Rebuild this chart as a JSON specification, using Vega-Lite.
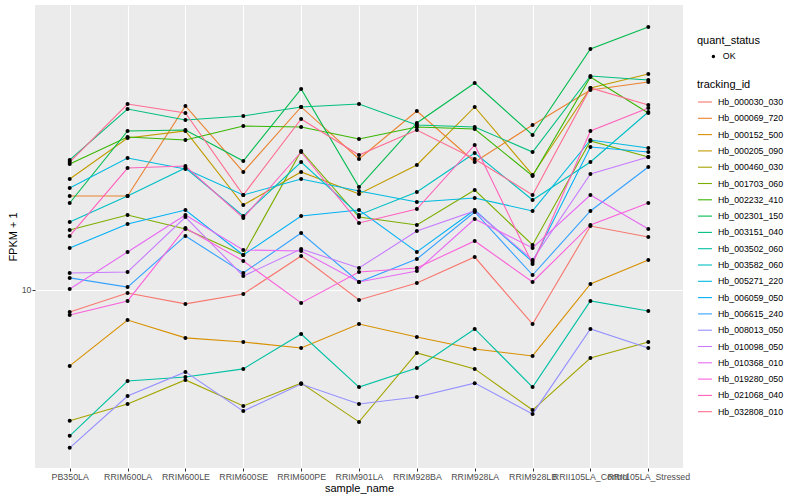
{
"$schema":"https://vega.github.io/schema/vega-lite/v6.json",
"width":648,"height":463,
"autosize":{"type":"none"},
"padding":{"left":35,"top":5,"right":117,"bottom":32},
"background":"white",
"config":{"view":{"fill":"#EBEBEB","stroke":null},"font":"Liberation Sans"},
"datasets":{"d":[
{"tracking_id":"Hb_000030_030","sample_name":"PB350LA","FPKM":8.81,"quant_status":"OK"},
{"tracking_id":"Hb_000030_030","sample_name":"RRIM600LA","FPKM":9.83,"quant_status":"OK"},
{"tracking_id":"Hb_000030_030","sample_name":"RRIM600LE","FPKM":9.23,"quant_status":"OK"},
{"tracking_id":"Hb_000030_030","sample_name":"RRIM600SE","FPKM":9.77,"quant_status":"OK"},
{"tracking_id":"Hb_000030_030","sample_name":"RRIM600PE","FPKM":12.16,"quant_status":"OK"},
{"tracking_id":"Hb_000030_030","sample_name":"RRIM901LA","FPKM":9.44,"quant_status":"OK"},
{"tracking_id":"Hb_000030_030","sample_name":"RRIM928BA","FPKM":10.41,"quant_status":"OK"},
{"tracking_id":"Hb_000030_030","sample_name":"RRIM928LA","FPKM":12.09,"quant_status":"OK"},
{"tracking_id":"Hb_000030_030","sample_name":"RRIM928LB","FPKM":8.22,"quant_status":"OK"},
{"tracking_id":"Hb_000030_030","sample_name":"RRII105LA_Control","FPKM":14.45,"quant_status":"OK"},
{"tracking_id":"Hb_000030_030","sample_name":"RRII105LA_Stressed","FPKM":13.57,"quant_status":"OK"},
{"tracking_id":"Hb_000069_720","sample_name":"PB350LA","FPKM":17.18,"quant_status":"OK"},
{"tracking_id":"Hb_000069_720","sample_name":"RRIM600LA","FPKM":17.18,"quant_status":"OK"},
{"tracking_id":"Hb_000069_720","sample_name":"RRIM600LE","FPKM":28.84,"quant_status":"OK"},
{"tracking_id":"Hb_000069_720","sample_name":"RRIM600SE","FPKM":19.73,"quant_status":"OK"},
{"tracking_id":"Hb_000069_720","sample_name":"RRIM600PE","FPKM":28.68,"quant_status":"OK"},
{"tracking_id":"Hb_000069_720","sample_name":"RRIM901LA","FPKM":21.26,"quant_status":"OK"},
{"tracking_id":"Hb_000069_720","sample_name":"RRIM928BA","FPKM":28.02,"quant_status":"OK"},
{"tracking_id":"Hb_000069_720","sample_name":"RRIM928LA","FPKM":20.89,"quant_status":"OK"},
{"tracking_id":"Hb_000069_720","sample_name":"RRIM928LB","FPKM":25.85,"quant_status":"OK"},
{"tracking_id":"Hb_000069_720","sample_name":"RRII105LA_Control","FPKM":31.62,"quant_status":"OK"},
{"tracking_id":"Hb_000069_720","sample_name":"RRII105LA_Stressed","FPKM":33.11,"quant_status":"OK"},
{"tracking_id":"Hb_000152_500","sample_name":"PB350LA","FPKM":6.46,"quant_status":"OK"},
{"tracking_id":"Hb_000152_500","sample_name":"RRIM600LA","FPKM":8.41,"quant_status":"OK"},
{"tracking_id":"Hb_000152_500","sample_name":"RRIM600LE","FPKM":7.59,"quant_status":"OK"},
{"tracking_id":"Hb_000152_500","sample_name":"RRIM600SE","FPKM":7.41,"quant_status":"OK"},
{"tracking_id":"Hb_000152_500","sample_name":"RRIM600PE","FPKM":7.16,"quant_status":"OK"},
{"tracking_id":"Hb_000152_500","sample_name":"RRIM901LA","FPKM":8.22,"quant_status":"OK"},
{"tracking_id":"Hb_000152_500","sample_name":"RRIM928BA","FPKM":7.63,"quant_status":"OK"},
{"tracking_id":"Hb_000152_500","sample_name":"RRIM928LA","FPKM":7.12,"quant_status":"OK"},
{"tracking_id":"Hb_000152_500","sample_name":"RRIM928LB","FPKM":6.84,"quant_status":"OK"},
{"tracking_id":"Hb_000152_500","sample_name":"RRII105LA_Control","FPKM":10.35,"quant_status":"OK"},
{"tracking_id":"Hb_000152_500","sample_name":"RRII105LA_Stressed","FPKM":11.89,"quant_status":"OK"},
{"tracking_id":"Hb_000205_090","sample_name":"PB350LA","FPKM":18.95,"quant_status":"OK"},
{"tracking_id":"Hb_000205_090","sample_name":"RRIM600LA","FPKM":23.99,"quant_status":"OK"},
{"tracking_id":"Hb_000205_090","sample_name":"RRIM600LE","FPKM":24.98,"quant_status":"OK"},
{"tracking_id":"Hb_000205_090","sample_name":"RRIM600SE","FPKM":16.31,"quant_status":"OK"},
{"tracking_id":"Hb_000205_090","sample_name":"RRIM600PE","FPKM":19.73,"quant_status":"OK"},
{"tracking_id":"Hb_000205_090","sample_name":"RRIM901LA","FPKM":17.38,"quant_status":"OK"},
{"tracking_id":"Hb_000205_090","sample_name":"RRIM928BA","FPKM":20.54,"quant_status":"OK"},
{"tracking_id":"Hb_000205_090","sample_name":"RRIM928LA","FPKM":28.68,"quant_status":"OK"},
{"tracking_id":"Hb_000205_090","sample_name":"RRIM928LB","FPKM":19.39,"quant_status":"OK"},
{"tracking_id":"Hb_000205_090","sample_name":"RRII105LA_Control","FPKM":31.99,"quant_status":"OK"},
{"tracking_id":"Hb_000205_090","sample_name":"RRII105LA_Stressed","FPKM":34.67,"quant_status":"OK"},
{"tracking_id":"Hb_000460_030","sample_name":"PB350LA","FPKM":4.71,"quant_status":"OK"},
{"tracking_id":"Hb_000460_030","sample_name":"RRIM600LA","FPKM":5.19,"quant_status":"OK"},
{"tracking_id":"Hb_000460_030","sample_name":"RRIM600LE","FPKM":5.96,"quant_status":"OK"},
{"tracking_id":"Hb_000460_030","sample_name":"RRIM600SE","FPKM":5.13,"quant_status":"OK"},
{"tracking_id":"Hb_000460_030","sample_name":"RRIM600PE","FPKM":5.85,"quant_status":"OK"},
{"tracking_id":"Hb_000460_030","sample_name":"RRIM901LA","FPKM":4.68,"quant_status":"OK"},
{"tracking_id":"Hb_000460_030","sample_name":"RRIM928BA","FPKM":6.96,"quant_status":"OK"},
{"tracking_id":"Hb_000460_030","sample_name":"RRIM928LA","FPKM":6.35,"quant_status":"OK"},
{"tracking_id":"Hb_000460_030","sample_name":"RRIM928LB","FPKM":5.01,"quant_status":"OK"},
{"tracking_id":"Hb_000460_030","sample_name":"RRII105LA_Control","FPKM":6.76,"quant_status":"OK"},
{"tracking_id":"Hb_000460_030","sample_name":"RRII105LA_Stressed","FPKM":7.41,"quant_status":"OK"},
{"tracking_id":"Hb_001703_060","sample_name":"PB350LA","FPKM":14.13,"quant_status":"OK"},
{"tracking_id":"Hb_001703_060","sample_name":"RRIM600LA","FPKM":15.40,"quant_status":"OK"},
{"tracking_id":"Hb_001703_060","sample_name":"RRIM600LE","FPKM":14.21,"quant_status":"OK"},
{"tracking_id":"Hb_001703_060","sample_name":"RRIM600SE","FPKM":12.23,"quant_status":"OK"},
{"tracking_id":"Hb_001703_060","sample_name":"RRIM600PE","FPKM":22.26,"quant_status":"OK"},
{"tracking_id":"Hb_001703_060","sample_name":"RRIM901LA","FPKM":15.22,"quant_status":"OK"},
{"tracking_id":"Hb_001703_060","sample_name":"RRIM928BA","FPKM":14.54,"quant_status":"OK"},
{"tracking_id":"Hb_001703_060","sample_name":"RRIM928LA","FPKM":17.78,"quant_status":"OK"},
{"tracking_id":"Hb_001703_060","sample_name":"RRIM928LB","FPKM":12.96,"quant_status":"OK"},
{"tracking_id":"Hb_001703_060","sample_name":"RRII105LA_Control","FPKM":23.58,"quant_status":"OK"},
{"tracking_id":"Hb_001703_060","sample_name":"RRII105LA_Stressed","FPKM":21.50,"quant_status":"OK"},
{"tracking_id":"Hb_002232_410","sample_name":"PB350LA","FPKM":20.65,"quant_status":"OK"},
{"tracking_id":"Hb_002232_410","sample_name":"RRIM600LA","FPKM":24.13,"quant_status":"OK"},
{"tracking_id":"Hb_002232_410","sample_name":"RRIM600LE","FPKM":23.71,"quant_status":"OK"},
{"tracking_id":"Hb_002232_410","sample_name":"RRIM600SE","FPKM":25.70,"quant_status":"OK"},
{"tracking_id":"Hb_002232_410","sample_name":"RRIM600PE","FPKM":25.56,"quant_status":"OK"},
{"tracking_id":"Hb_002232_410","sample_name":"RRIM901LA","FPKM":23.85,"quant_status":"OK"},
{"tracking_id":"Hb_002232_410","sample_name":"RRIM928BA","FPKM":25.56,"quant_status":"OK"},
{"tracking_id":"Hb_002232_410","sample_name":"RRIM928LA","FPKM":25.26,"quant_status":"OK"},
{"tracking_id":"Hb_002232_410","sample_name":"RRIM928LB","FPKM":19.28,"quant_status":"OK"},
{"tracking_id":"Hb_002232_410","sample_name":"RRII105LA_Control","FPKM":34.08,"quant_status":"OK"},
{"tracking_id":"Hb_002232_410","sample_name":"RRII105LA_Stressed","FPKM":27.70,"quant_status":"OK"},
{"tracking_id":"Hb_002301_150","sample_name":"PB350LA","FPKM":16.50,"quant_status":"OK"},
{"tracking_id":"Hb_002301_150","sample_name":"RRIM600LA","FPKM":24.98,"quant_status":"OK"},
{"tracking_id":"Hb_002301_150","sample_name":"RRIM600LE","FPKM":25.12,"quant_status":"OK"},
{"tracking_id":"Hb_002301_150","sample_name":"RRIM600SE","FPKM":21.01,"quant_status":"OK"},
{"tracking_id":"Hb_002301_150","sample_name":"RRIM600PE","FPKM":31.81,"quant_status":"OK"},
{"tracking_id":"Hb_002301_150","sample_name":"RRIM901LA","FPKM":18.09,"quant_status":"OK"},
{"tracking_id":"Hb_002301_150","sample_name":"RRIM928BA","FPKM":26.15,"quant_status":"OK"},
{"tracking_id":"Hb_002301_150","sample_name":"RRIM928LA","FPKM":32.92,"quant_status":"OK"},
{"tracking_id":"Hb_002301_150","sample_name":"RRIM928LB","FPKM":24.41,"quant_status":"OK"},
{"tracking_id":"Hb_002301_150","sample_name":"RRII105LA_Control","FPKM":40.04,"quant_status":"OK"},
{"tracking_id":"Hb_002301_150","sample_name":"RRII105LA_Stressed","FPKM":45.45,"quant_status":"OK"},
{"tracking_id":"Hb_003151_040","sample_name":"PB350LA","FPKM":21.14,"quant_status":"OK"},
{"tracking_id":"Hb_003151_040","sample_name":"RRIM600LA","FPKM":28.35,"quant_status":"OK"},
{"tracking_id":"Hb_003151_040","sample_name":"RRIM600LE","FPKM":26.61,"quant_status":"OK"},
{"tracking_id":"Hb_003151_040","sample_name":"RRIM600SE","FPKM":27.23,"quant_status":"OK"},
{"tracking_id":"Hb_003151_040","sample_name":"RRIM600PE","FPKM":28.68,"quant_status":"OK"},
{"tracking_id":"Hb_003151_040","sample_name":"RRIM901LA","FPKM":29.17,"quant_status":"OK"},
{"tracking_id":"Hb_003151_040","sample_name":"RRIM928BA","FPKM":25.85,"quant_status":"OK"},
{"tracking_id":"Hb_003151_040","sample_name":"RRIM928LA","FPKM":25.56,"quant_status":"OK"},
{"tracking_id":"Hb_003151_040","sample_name":"RRIM928LB","FPKM":22.13,"quant_status":"OK"},
{"tracking_id":"Hb_003151_040","sample_name":"RRII105LA_Control","FPKM":34.28,"quant_status":"OK"},
{"tracking_id":"Hb_003151_040","sample_name":"RRII105LA_Stressed","FPKM":33.50,"quant_status":"OK"},
{"tracking_id":"Hb_003502_060","sample_name":"PB350LA","FPKM":4.32,"quant_status":"OK"},
{"tracking_id":"Hb_003502_060","sample_name":"RRIM600LA","FPKM":5.92,"quant_status":"OK"},
{"tracking_id":"Hb_003502_060","sample_name":"RRIM600LE","FPKM":6.06,"quant_status":"OK"},
{"tracking_id":"Hb_003502_060","sample_name":"RRIM600SE","FPKM":6.35,"quant_status":"OK"},
{"tracking_id":"Hb_003502_060","sample_name":"RRIM600PE","FPKM":7.76,"quant_status":"OK"},
{"tracking_id":"Hb_003502_060","sample_name":"RRIM901LA","FPKM":5.72,"quant_status":"OK"},
{"tracking_id":"Hb_003502_060","sample_name":"RRIM928BA","FPKM":6.38,"quant_status":"OK"},
{"tracking_id":"Hb_003502_060","sample_name":"RRIM928LA","FPKM":7.99,"quant_status":"OK"},
{"tracking_id":"Hb_003502_060","sample_name":"RRIM928LB","FPKM":5.72,"quant_status":"OK"},
{"tracking_id":"Hb_003502_060","sample_name":"RRII105LA_Control","FPKM":9.39,"quant_status":"OK"},
{"tracking_id":"Hb_003502_060","sample_name":"RRII105LA_Stressed","FPKM":8.86,"quant_status":"OK"},
{"tracking_id":"Hb_003582_060","sample_name":"PB350LA","FPKM":14.79,"quant_status":"OK"},
{"tracking_id":"Hb_003582_060","sample_name":"RRIM600LA","FPKM":17.18,"quant_status":"OK"},
{"tracking_id":"Hb_003582_060","sample_name":"RRIM600LE","FPKM":20.18,"quant_status":"OK"},
{"tracking_id":"Hb_003582_060","sample_name":"RRIM600SE","FPKM":15.31,"quant_status":"OK"},
{"tracking_id":"Hb_003582_060","sample_name":"RRIM600PE","FPKM":20.89,"quant_status":"OK"},
{"tracking_id":"Hb_003582_060","sample_name":"RRIM901LA","FPKM":15.40,"quant_status":"OK"},
{"tracking_id":"Hb_003582_060","sample_name":"RRIM928BA","FPKM":17.58,"quant_status":"OK"},
{"tracking_id":"Hb_003582_060","sample_name":"RRIM928LA","FPKM":22.00,"quant_status":"OK"},
{"tracking_id":"Hb_003582_060","sample_name":"RRIM928LB","FPKM":16.79,"quant_status":"OK"},
{"tracking_id":"Hb_003582_060","sample_name":"RRII105LA_Control","FPKM":20.89,"quant_status":"OK"},
{"tracking_id":"Hb_003582_060","sample_name":"RRII105LA_Stressed","FPKM":27.86,"quant_status":"OK"},
{"tracking_id":"Hb_005271_220","sample_name":"PB350LA","FPKM":17.99,"quant_status":"OK"},
{"tracking_id":"Hb_005271_220","sample_name":"RRIM600LA","FPKM":21.38,"quant_status":"OK"},
{"tracking_id":"Hb_005271_220","sample_name":"RRIM600LE","FPKM":20.07,"quant_status":"OK"},
{"tracking_id":"Hb_005271_220","sample_name":"RRIM600SE","FPKM":17.28,"quant_status":"OK"},
{"tracking_id":"Hb_005271_220","sample_name":"RRIM600PE","FPKM":18.95,"quant_status":"OK"},
{"tracking_id":"Hb_005271_220","sample_name":"RRIM901LA","FPKM":17.68,"quant_status":"OK"},
{"tracking_id":"Hb_005271_220","sample_name":"RRIM928BA","FPKM":16.60,"quant_status":"OK"},
{"tracking_id":"Hb_005271_220","sample_name":"RRIM928LA","FPKM":16.98,"quant_status":"OK"},
{"tracking_id":"Hb_005271_220","sample_name":"RRIM928LB","FPKM":15.76,"quant_status":"OK"},
{"tracking_id":"Hb_005271_220","sample_name":"RRII105LA_Control","FPKM":23.71,"quant_status":"OK"},
{"tracking_id":"Hb_005271_220","sample_name":"RRII105LA_Stressed","FPKM":22.65,"quant_status":"OK"},
{"tracking_id":"Hb_006059_050","sample_name":"PB350LA","FPKM":12.74,"quant_status":"OK"},
{"tracking_id":"Hb_006059_050","sample_name":"RRIM600LA","FPKM":14.62,"quant_status":"OK"},
{"tracking_id":"Hb_006059_050","sample_name":"RRIM600LE","FPKM":15.85,"quant_status":"OK"},
{"tracking_id":"Hb_006059_050","sample_name":"RRIM600SE","FPKM":12.23,"quant_status":"OK"},
{"tracking_id":"Hb_006059_050","sample_name":"RRIM600PE","FPKM":15.31,"quant_status":"OK"},
{"tracking_id":"Hb_006059_050","sample_name":"RRIM901LA","FPKM":15.85,"quant_status":"OK"},
{"tracking_id":"Hb_006059_050","sample_name":"RRIM928BA","FPKM":12.45,"quant_status":"OK"},
{"tracking_id":"Hb_006059_050","sample_name":"RRIM928LA","FPKM":15.85,"quant_status":"OK"},
{"tracking_id":"Hb_006059_050","sample_name":"RRIM928LB","FPKM":11.75,"quant_status":"OK"},
{"tracking_id":"Hb_006059_050","sample_name":"RRII105LA_Control","FPKM":22.78,"quant_status":"OK"},
{"tracking_id":"Hb_006059_050","sample_name":"RRII105LA_Stressed","FPKM":22.13,"quant_status":"OK"},
{"tracking_id":"Hb_006615_240","sample_name":"PB350LA","FPKM":10.72,"quant_status":"OK"},
{"tracking_id":"Hb_006615_240","sample_name":"RRIM600LA","FPKM":10.17,"quant_status":"OK"},
{"tracking_id":"Hb_006615_240","sample_name":"RRIM600LE","FPKM":13.65,"quant_status":"OK"},
{"tracking_id":"Hb_006615_240","sample_name":"RRIM600SE","FPKM":11.03,"quant_status":"OK"},
{"tracking_id":"Hb_006615_240","sample_name":"RRIM600PE","FPKM":13.88,"quant_status":"OK"},
{"tracking_id":"Hb_006615_240","sample_name":"RRIM901LA","FPKM":10.47,"quant_status":"OK"},
{"tracking_id":"Hb_006615_240","sample_name":"RRIM928BA","FPKM":11.95,"quant_status":"OK"},
{"tracking_id":"Hb_006615_240","sample_name":"RRIM928LA","FPKM":15.67,"quant_status":"OK"},
{"tracking_id":"Hb_006615_240","sample_name":"RRIM928LB","FPKM":10.90,"quant_status":"OK"},
{"tracking_id":"Hb_006615_240","sample_name":"RRII105LA_Control","FPKM":15.76,"quant_status":"OK"},
{"tracking_id":"Hb_006615_240","sample_name":"RRII105LA_Stressed","FPKM":20.30,"quant_status":"OK"},
{"tracking_id":"Hb_008013_050","sample_name":"PB350LA","FPKM":4.03,"quant_status":"OK"},
{"tracking_id":"Hb_008013_050","sample_name":"RRIM600LA","FPKM":5.43,"quant_status":"OK"},
{"tracking_id":"Hb_008013_050","sample_name":"RRIM600LE","FPKM":6.24,"quant_status":"OK"},
{"tracking_id":"Hb_008013_050","sample_name":"RRIM600SE","FPKM":4.98,"quant_status":"OK"},
{"tracking_id":"Hb_008013_050","sample_name":"RRIM600PE","FPKM":5.82,"quant_status":"OK"},
{"tracking_id":"Hb_008013_050","sample_name":"RRIM901LA","FPKM":5.19,"quant_status":"OK"},
{"tracking_id":"Hb_008013_050","sample_name":"RRIM928BA","FPKM":5.40,"quant_status":"OK"},
{"tracking_id":"Hb_008013_050","sample_name":"RRIM928LA","FPKM":5.85,"quant_status":"OK"},
{"tracking_id":"Hb_008013_050","sample_name":"RRIM928LB","FPKM":4.90,"quant_status":"OK"},
{"tracking_id":"Hb_008013_050","sample_name":"RRII105LA_Control","FPKM":7.99,"quant_status":"OK"},
{"tracking_id":"Hb_008013_050","sample_name":"RRII105LA_Stressed","FPKM":7.16,"quant_status":"OK"},
{"tracking_id":"Hb_010098_050","sample_name":"PB350LA","FPKM":11.03,"quant_status":"OK"},
{"tracking_id":"Hb_010098_050","sample_name":"RRIM600LA","FPKM":11.09,"quant_status":"OK"},
{"tracking_id":"Hb_010098_050","sample_name":"RRIM600LE","FPKM":15.22,"quant_status":"OK"},
{"tracking_id":"Hb_010098_050","sample_name":"RRIM600SE","FPKM":10.84,"quant_status":"OK"},
{"tracking_id":"Hb_010098_050","sample_name":"RRIM600PE","FPKM":12.66,"quant_status":"OK"},
{"tracking_id":"Hb_010098_050","sample_name":"RRIM901LA","FPKM":11.35,"quant_status":"OK"},
{"tracking_id":"Hb_010098_050","sample_name":"RRIM928BA","FPKM":14.04,"quant_status":"OK"},
{"tracking_id":"Hb_010098_050","sample_name":"RRIM928LA","FPKM":15.76,"quant_status":"OK"},
{"tracking_id":"Hb_010098_050","sample_name":"RRIM928LB","FPKM":11.89,"quant_status":"OK"},
{"tracking_id":"Hb_010098_050","sample_name":"RRII105LA_Control","FPKM":19.50,"quant_status":"OK"},
{"tracking_id":"Hb_010098_050","sample_name":"RRII105LA_Stressed","FPKM":21.50,"quant_status":"OK"},
{"tracking_id":"Hb_010368_010","sample_name":"PB350LA","FPKM":10.06,"quant_status":"OK"},
{"tracking_id":"Hb_010368_010","sample_name":"RRIM600LA","FPKM":12.45,"quant_status":"OK"},
{"tracking_id":"Hb_010368_010","sample_name":"RRIM600LE","FPKM":15.40,"quant_status":"OK"},
{"tracking_id":"Hb_010368_010","sample_name":"RRIM600SE","FPKM":12.59,"quant_status":"OK"},
{"tracking_id":"Hb_010368_010","sample_name":"RRIM600PE","FPKM":12.52,"quant_status":"OK"},
{"tracking_id":"Hb_010368_010","sample_name":"RRIM901LA","FPKM":10.47,"quant_status":"OK"},
{"tracking_id":"Hb_010368_010","sample_name":"RRIM928BA","FPKM":11.16,"quant_status":"OK"},
{"tracking_id":"Hb_010368_010","sample_name":"RRIM928LA","FPKM":15.05,"quant_status":"OK"},
{"tracking_id":"Hb_010368_010","sample_name":"RRIM928LB","FPKM":12.74,"quant_status":"OK"},
{"tracking_id":"Hb_010368_010","sample_name":"RRII105LA_Control","FPKM":17.28,"quant_status":"OK"},
{"tracking_id":"Hb_010368_010","sample_name":"RRII105LA_Stressed","FPKM":14.21,"quant_status":"OK"},
{"tracking_id":"Hb_019280_050","sample_name":"PB350LA","FPKM":8.66,"quant_status":"OK"},
{"tracking_id":"Hb_019280_050","sample_name":"RRIM600LA","FPKM":9.39,"quant_status":"OK"},
{"tracking_id":"Hb_019280_050","sample_name":"RRIM600LE","FPKM":14.29,"quant_status":"OK"},
{"tracking_id":"Hb_019280_050","sample_name":"RRIM600SE","FPKM":11.82,"quant_status":"OK"},
{"tracking_id":"Hb_019280_050","sample_name":"RRIM600PE","FPKM":9.28,"quant_status":"OK"},
{"tracking_id":"Hb_019280_050","sample_name":"RRIM901LA","FPKM":11.09,"quant_status":"OK"},
{"tracking_id":"Hb_019280_050","sample_name":"RRIM928BA","FPKM":11.35,"quant_status":"OK"},
{"tracking_id":"Hb_019280_050","sample_name":"RRIM928LA","FPKM":13.26,"quant_status":"OK"},
{"tracking_id":"Hb_019280_050","sample_name":"RRIM928LB","FPKM":10.47,"quant_status":"OK"},
{"tracking_id":"Hb_019280_050","sample_name":"RRII105LA_Control","FPKM":14.54,"quant_status":"OK"},
{"tracking_id":"Hb_019280_050","sample_name":"RRII105LA_Stressed","FPKM":16.50,"quant_status":"OK"},
{"tracking_id":"Hb_021068_040","sample_name":"PB350LA","FPKM":13.65,"quant_status":"OK"},
{"tracking_id":"Hb_021068_040","sample_name":"RRIM600LA","FPKM":20.18,"quant_status":"OK"},
{"tracking_id":"Hb_021068_040","sample_name":"RRIM600LE","FPKM":20.42,"quant_status":"OK"},
{"tracking_id":"Hb_021068_040","sample_name":"RRIM600SE","FPKM":15.14,"quant_status":"OK"},
{"tracking_id":"Hb_021068_040","sample_name":"RRIM600PE","FPKM":22.13,"quant_status":"OK"},
{"tracking_id":"Hb_021068_040","sample_name":"RRIM901LA","FPKM":14.71,"quant_status":"OK"},
{"tracking_id":"Hb_021068_040","sample_name":"RRIM928BA","FPKM":15.94,"quant_status":"OK"},
{"tracking_id":"Hb_021068_040","sample_name":"RRIM928LA","FPKM":23.04,"quant_status":"OK"},
{"tracking_id":"Hb_021068_040","sample_name":"RRIM928LB","FPKM":11.61,"quant_status":"OK"},
{"tracking_id":"Hb_021068_040","sample_name":"RRII105LA_Control","FPKM":24.98,"quant_status":"OK"},
{"tracking_id":"Hb_021068_040","sample_name":"RRII105LA_Stressed","FPKM":28.51,"quant_status":"OK"},
{"tracking_id":"Hb_032808_010","sample_name":"PB350LA","FPKM":20.89,"quant_status":"OK"},
{"tracking_id":"Hb_032808_010","sample_name":"RRIM600LA","FPKM":29.17,"quant_status":"OK"},
{"tracking_id":"Hb_032808_010","sample_name":"RRIM600LE","FPKM":27.70,"quant_status":"OK"},
{"tracking_id":"Hb_032808_010","sample_name":"RRIM600SE","FPKM":17.28,"quant_status":"OK"},
{"tracking_id":"Hb_032808_010","sample_name":"RRIM600PE","FPKM":26.76,"quant_status":"OK"},
{"tracking_id":"Hb_032808_010","sample_name":"RRIM901LA","FPKM":21.75,"quant_status":"OK"},
{"tracking_id":"Hb_032808_010","sample_name":"RRIM928BA","FPKM":25.12,"quant_status":"OK"},
{"tracking_id":"Hb_032808_010","sample_name":"RRIM928LA","FPKM":21.26,"quant_status":"OK"},
{"tracking_id":"Hb_032808_010","sample_name":"RRIM928LB","FPKM":17.28,"quant_status":"OK"},
{"tracking_id":"Hb_032808_010","sample_name":"RRII105LA_Control","FPKM":31.99,"quant_status":"OK"},
{"tracking_id":"Hb_032808_010","sample_name":"RRII105LA_Stressed","FPKM":29.01,"quant_status":"OK"}
]},
"data":{"name":"d"},
"encoding":{
"x":{"field":"sample_name","type":"nominal",
"sort":["PB350LA","RRIM600LA","RRIM600LE","RRIM600SE","RRIM600PE","RRIM901LA","RRIM928BA","RRIM928LA","RRIM928LB","RRII105LA_Control","RRII105LA_Stressed"],
"scale":{"type":"point","padding":0.6},
"axis":{"title":"sample_name","titleFontSize":11,"titleFontWeight":"normal","titleColor":"black","titlePadding":2,"labelFontSize":8.8,"labelColor":"#4D4D4D","labelAngle":0,"labelOverlap":false,"labelBound":false,"labelFlush":false,"labelPadding":1,"tickColor":"#333333","tickSize":3,"domain":false,"grid":true,"gridColor":"white","gridWidth":1.1}},
"y":{"field":"FPKM","type":"quantitative",
"scale":{"type":"log","domain":[3.589,51.58],"nice":false},
"axis":{"title":"FPKM + 1","values":[10],"format":"d","titleFontSize":11,"titleFontWeight":"normal","titleColor":"black","titlePadding":3,"labelFontSize":8.8,"labelColor":"#4D4D4D","labelPadding":1,"tickColor":"#333333","tickSize":3,"domain":false,"grid":true,"gridColor":"white","gridWidth":1.1}}
},
"layer":[
{"mark":{"type":"line","strokeWidth":1.1},
"encoding":{"color":{"field":"tracking_id","type":"nominal",
"scale":{"range":["#F8766D","#EA8331","#D89000","#C09B00","#A3A500","#7CAE00","#39B600","#00BB4E","#00BF7D","#00C1A3","#00BFC4","#00BAE0","#00B0F6","#35A2FF","#9590FF","#C77CFF","#E76BF3","#FA62DB","#FF62BC","#FF6C91"]},
"legend":{"title":"tracking_id","orient":"none","legendX":662,"legendY":74,"symbolType":"stroke","symbolSize":196,"symbolStrokeWidth":1.1,"labelFontSize":8.8,"labelColor":"black","titleFontSize":11,"titleFontWeight":"normal","titleColor":"black","titlePadding":4,"rowPadding":3.3,"labelOffset":5}}}},
{"mark":{"type":"point","filled":true,"size":16,"opacity":1},
"encoding":{"color":{"value":"black"},
"shape":{"field":"quant_status","type":"nominal","scale":{"range":["circle"]},
"legend":{"title":"quant_status","orient":"none","legendX":662,"legendY":30,"symbolSize":12,"symbolFillColor":"black","symbolStrokeColor":"black","symbolOffset":12,"labelFontSize":8.8,"labelColor":"black","titleFontSize":11,"titleFontWeight":"normal","titleColor":"black","titlePadding":6,"labelOffset":5}}}}
]
}
